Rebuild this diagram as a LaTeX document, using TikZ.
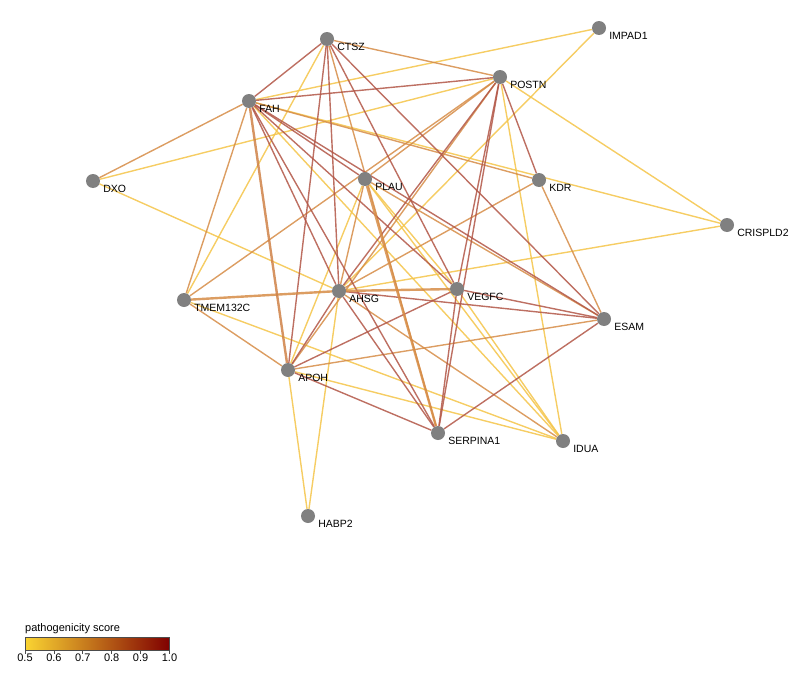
\documentclass[tikz,border=0pt]{standalone}
\usepackage{fontspec}
\setmainfont{Liberation Sans}
\usepackage{tikz}
\usetikzlibrary{backgrounds}

\definecolor{scorelow}{RGB}{244,196,72}
\definecolor{scoremid}{RGB}{214,140,70}
\definecolor{scorehigh}{RGB}{178,86,70}
\definecolor{barlow}{RGB}{250,212,50}
\definecolor{barmid}{RGB}{210,120,40}
\definecolor{barhigh}{RGB}{128,0,0}

\tikzset{
	gene/.style={circle, fill=black!50, inner sep=0pt, minimum size=14pt},
	gl/.style={xshift=5pt, yshift=1pt, inner sep=0pt, font=\fontsize{10.5}{12}\selectfont},
	lowedge/.style={draw=scorelow, line width=1.4pt, opacity=0.85},
	midedge/.style={draw=scoremid, line width=1.4pt, opacity=0.85},
	highedge/.style={draw=scorehigh, line width=1.4pt, opacity=0.85},
	heavy/.style={line width=2.4pt}
}

\begin{document}
\begin{tikzpicture}[x=1pt, y=-1pt]
	\useasboundingbox (0,0) rectangle (801,680);

	% genes
	\node [gene, label={[gl]south east:CTSZ}] (ctsz) at (327,39) {};
	\node [gene, label={[gl]south east:POSTN}] (postn) at (500,77) {};
	\node [gene, label={[gl]south east:IMPAD1}] (impad1) at (599,28) {};
	\node [gene, label={[gl]south east:FAH}] (fah) at (249,101) {};
	\node [gene, label={[gl]south east:DXO}] (dxo) at (93,181) {};
	\node [gene, label={[gl]south east:PLAU}] (plau) at (365,179) {};
	\node [gene, label={[gl]south east:KDR}] (kdr) at (539,180) {};
	\node [gene, label={[gl]south east:CRISPLD2}] (crispld2) at (727,225) {};
	\node [gene, label={[gl]south east:TMEM132C}] (tmem) at (184,300) {};
	\node [gene, label={[gl]south east:AHSG}] (ahsg) at (339,291) {};
	\node [gene, label={[gl]south east:VEGFC}] (vegfc) at (457,289) {};
	\node [gene, label={[gl]south east:ESAM}] (esam) at (604,319) {};
	\node [gene, label={[gl]south east:APOH}] (apoh) at (288,370) {};
	\node [gene, label={[gl]south east:SERPINA1}] (serpina1) at (438,433) {};
	\node [gene, label={[gl]south east:IDUA}] (idua) at (563,441) {};
	\node [gene, label={[gl]south east:HABP2}] (habp2) at (308,516) {};

	% interactions, by score
	\begin{pgfonlayer}{background}
	\foreach \a/\b in {ctsz/tmem, fah/impad1, fah/crispld2, fah/idua, postn/dxo,
		postn/crispld2, postn/idua, impad1/ahsg, dxo/ahsg, plau/apoh, plau/vegfc,
		plau/idua, crispld2/ahsg, tmem/idua, ahsg/habp2, apoh/habp2, apoh/idua,
		vegfc/idua}
	\draw [lowedge] (\a) -- (\b);

	\foreach \a/\b in {ctsz/postn, fah/dxo, fah/tmem, fah/kdr, postn/apoh,
		postn/tmem, postn/plau, plau/ahsg, plau/esam, kdr/esam, kdr/ahsg,
		tmem/apoh, ahsg/idua, apoh/esam, ctsz/serpina1}
	\draw [midedge] (\a) -- (\b);

	\foreach \a/\b in {ctsz/fah, ctsz/apoh, ctsz/ahsg, ctsz/vegfc, ctsz/esam,
		fah/postn, fah/ahsg, fah/vegfc, fah/esam, fah/serpina1, fah/plau,
		postn/kdr, postn/serpina1, postn/ahsg, postn/vegfc, ahsg/esam,
		ahsg/apoh, ahsg/serpina1, apoh/vegfc, apoh/serpina1, vegfc/esam,
		vegfc/serpina1, esam/serpina1}
	\draw [highedge] (\a) -- (\b);

	\draw [midedge, heavy] (tmem) -- (ahsg);
	\draw [midedge, heavy] (ahsg) -- (vegfc);
	\draw [midedge, heavy, draw=scoremid!80!scorehigh] (fah) -- (apoh);
	\draw [midedge, heavy] (plau) -- (serpina1);
	\end{pgfonlayer}

	% colour scale
	\node [anchor=south west, inner sep=0pt, font=\fontsize{11}{13}\selectfont] (scoretitle) at (25,634) {pathogenicity score};
	\shade [left color=barlow, middle color=barmid, right color=barhigh] (25,637.5) rectangle (169.5,650.5);
	\draw [black!70, line width=0.8pt] (25,637.5) rectangle (169.5,650.5);
	\foreach \v [count=\i from 0] in {0.5,0.6,0.7,0.8,0.9,1.0} {
		\draw [black!70, line width=0.8pt] (25+28.9*\i,650.5) -- (25+28.9*\i,653.5);
		\node [anchor=north, inner sep=0pt, font=\fontsize{11}{13}\selectfont] (tick\i) at (25+28.9*\i,654) {\v};
	}
\end{tikzpicture}
\end{document}
